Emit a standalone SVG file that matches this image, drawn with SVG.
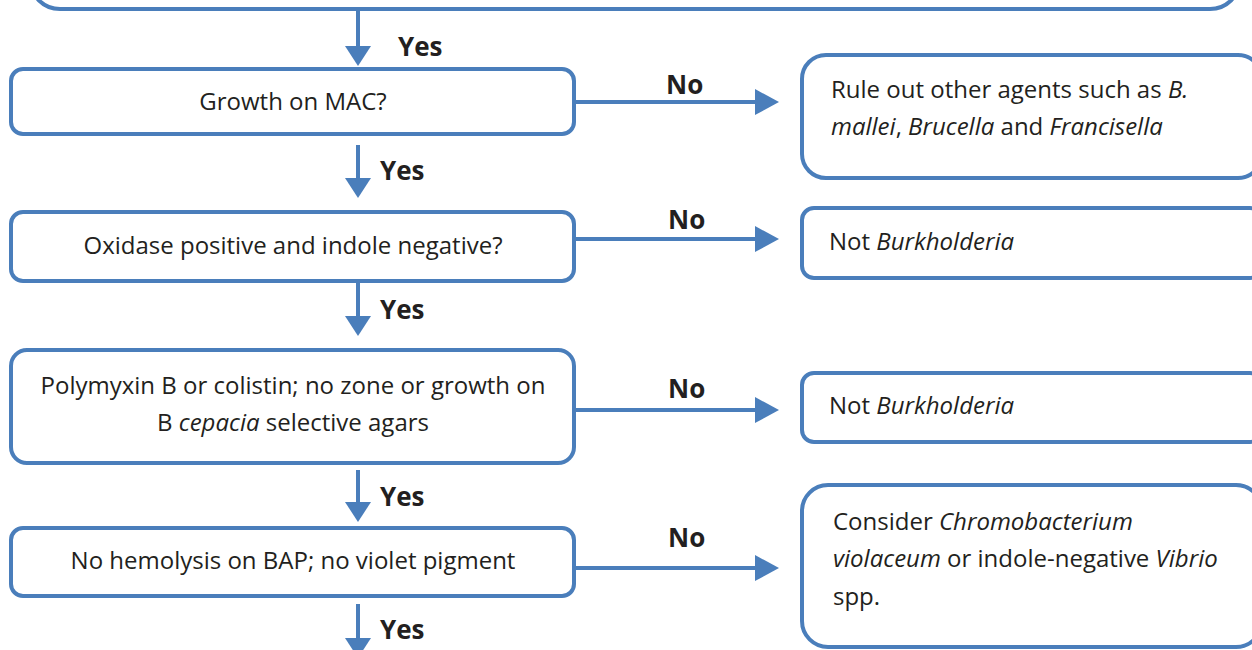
<svg xmlns="http://www.w3.org/2000/svg" width="1252" height="650" viewBox="0 0 1252 650">
<defs>
<style>
.box{fill:#fff;stroke:#4a7ebb;stroke-width:4}
.ln{stroke:#4a7ebb;stroke-width:4;fill:none}
.ah{fill:#4a7ebb}
.t{font-family:"Open Sans","Liberation Sans",sans-serif;font-size:24px;fill:#231f20}
.c{text-anchor:middle}
.lb{font-family:"Open Sans","Liberation Sans",sans-serif;font-size:26px;font-weight:bold;fill:#231f20}
.i{font-style:italic}
</style>
</defs>
<g id="top"><rect class="box" x="30" y="-60" width="1210" height="69" rx="30"/></g>
<g id="n1"><rect class="box" x="11" y="69" width="563" height="65" rx="12"/><text class="t c" x="293" y="110">Growth on MAC?</text></g>
<g id="r1"><rect class="box" x="802" y="55" width="460" height="123" rx="24"/><text class="t" x="831" y="98">Rule out other agents such as <tspan class="i">B.</tspan></text><text class="t" x="831" y="135"><tspan class="i">mallei</tspan>, <tspan class="i">Brucella</tspan> and <tspan class="i">Francisella</tspan></text></g>
<g id="n2"><rect class="box" x="11" y="212" width="563" height="69" rx="12"/><text class="t c" x="293" y="254">Oxidase positive and indole negative?</text></g>
<g id="r2"><rect class="box" x="802" y="208" width="460" height="70" rx="12"/><text class="t" x="829" y="250">Not <tspan class="i">Burkholderia</tspan></text></g>
<g id="n3"><rect class="box" x="11" y="350" width="563" height="113" rx="16"/><text class="t c" x="293" y="394">Polymyxin B or colistin; no zone or growth on</text><text class="t c" x="293" y="431">B <tspan class="i">cepacia</tspan> selective agars</text></g>
<g id="r3"><rect class="box" x="802" y="373" width="460" height="69" rx="12"/><text class="t" x="829" y="414">Not <tspan class="i">Burkholderia</tspan></text></g>
<g id="n4"><rect class="box" x="11" y="528" width="563" height="68" rx="12"/><text class="t c" x="293" y="569">No hemolysis on BAP; no violet pigment</text></g>
<g id="r4"><rect class="box" x="802" y="485" width="460" height="162" rx="26"/><text class="t" x="833" y="530">Consider <tspan class="i">Chromobacterium</tspan></text><text class="t" x="833" y="567"><tspan class="i">violaceum</tspan> or indole-negative <tspan class="i">Vibrio</tspan></text><text class="t" x="833" y="605">spp.</text></g>
<g id="connectors">
<line class="ln" x1="358" y1="11" x2="358" y2="48"/><polygon class="ah" points="345,46 371,46 358,66"/>
<line class="ln" x1="358" y1="145" x2="358" y2="180"/><polygon class="ah" points="345,178 371,178 358,198"/>
<line class="ln" x1="358" y1="283" x2="358" y2="318"/><polygon class="ah" points="345,316 371,316 358,336"/>
<line class="ln" x1="358" y1="470" x2="358" y2="504"/><polygon class="ah" points="345,502 371,502 358,522"/>
<line class="ln" x1="358" y1="604" x2="358" y2="650"/><polygon class="ah" points="345,638 371,638 358,658"/>
<line class="ln" x1="576" y1="102" x2="758" y2="102"/><polygon class="ah" points="755,89 755,115 779,102"/>
<line class="ln" x1="576" y1="239" x2="758" y2="239"/><polygon class="ah" points="755,226 755,252 779,239"/>
<line class="ln" x1="576" y1="410" x2="758" y2="410"/><polygon class="ah" points="755,397 755,423 779,410"/>
<line class="ln" x1="576" y1="568" x2="758" y2="568"/><polygon class="ah" points="755,555 755,581 779,568"/>
<text class="lb" x="398" y="56">Yes</text>
<text class="lb" x="380" y="180">Yes</text>
<text class="lb" x="380" y="319">Yes</text>
<text class="lb" x="380" y="506">Yes</text>
<text class="lb" x="380" y="639">Yes</text>
<text class="lb" x="666" y="94">No</text>
<text class="lb" x="668" y="229">No</text>
<text class="lb" x="668" y="398">No</text>
<text class="lb" x="668" y="547">No</text>
</g>
</svg>
